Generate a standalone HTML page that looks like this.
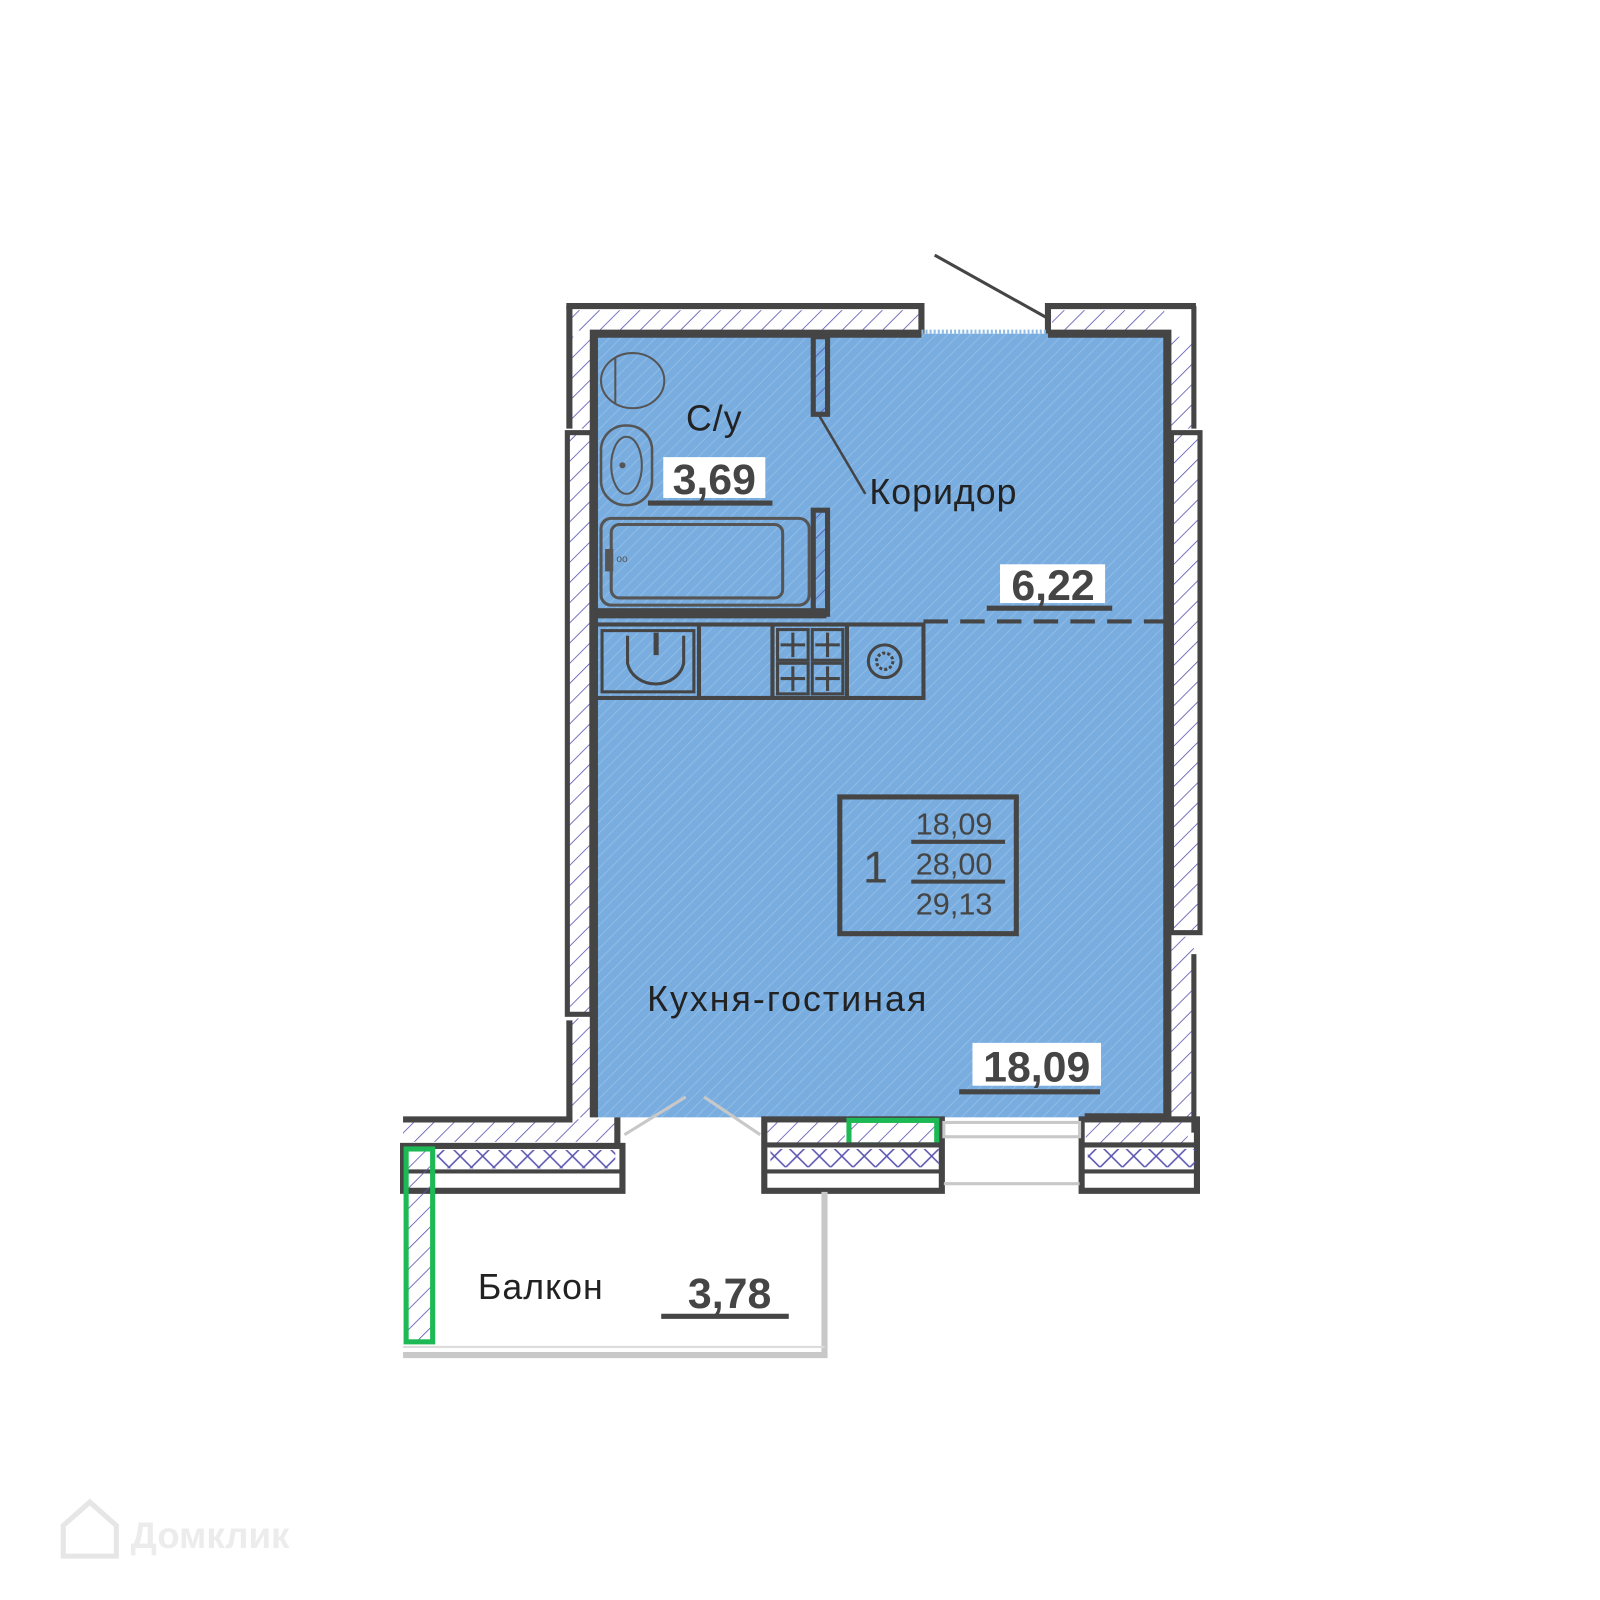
<!DOCTYPE html>
<html><head><meta charset="utf-8"><style>
html,body{margin:0;padding:0;background:#fff;}
svg{display:block;}
text{font-family:"Liberation Sans","DejaVu Sans",sans-serif;}
</style></head><body>
<svg width="1600" height="1600" viewBox="0 0 1568 1568" xmlns="http://www.w3.org/2000/svg">
<defs>
<pattern id="h" width="14" height="14" patternUnits="userSpaceOnUse" patternTransform="rotate(45)">
<line x1="0" y1="0" x2="0" y2="14" stroke="#5a55b0" stroke-width="1.6"/>
</pattern>
<pattern id="b" width="8" height="8" patternUnits="userSpaceOnUse" patternTransform="rotate(45)">
<rect width="8" height="8" fill="#79ade0"/>
<line x1="0" y1="0" x2="0" y2="8" stroke="#8fbce6" stroke-width="2"/>
</pattern>
<pattern id="x" width="22" height="22" patternUnits="userSpaceOnUse">
<path d="M0 0L22 22M22 0L0 22" stroke="#5a55b0" stroke-width="1.5"/>
</pattern>
</defs>
<rect x="582" y="327" width="562" height="768" fill="url(#b)"/>
<g fill="#fff" stroke="#454545" stroke-width="6">
<path d="M555 300H903V327"/>
<path d="M1027 327V300H1172"/>
</g>
<rect x="560" y="304" width="340" height="20" fill="url(#h)"/>
<rect x="1031" y="304" width="110" height="20" fill="url(#h)"/>
<line x1="916" y1="250" x2="1027" y2="312" stroke="#454545" stroke-width="3"/>
<rect x="560" y="330" width="20" height="90" fill="url(#h)"/>
<line x1="558" y1="300" x2="558" y2="420" stroke="#454545" stroke-width="6"/>
<rect x="556" y="424" width="24" height="570" fill="url(#h)" stroke="#454545" stroke-width="5"/>
<rect x="560" y="998" width="20" height="97" fill="url(#h)"/>
<line x1="558" y1="1000" x2="558" y2="1098" stroke="#454545" stroke-width="6"/>
<rect x="1148" y="330" width="22" height="90" fill="url(#h)"/>
<line x1="1170" y1="300" x2="1170" y2="420" stroke="#454545" stroke-width="5"/>
<rect x="1148" y="424" width="28" height="490" fill="url(#h)" stroke="#454545" stroke-width="5"/>
<rect x="1148" y="918" width="22" height="180" fill="url(#h)"/>
<line x1="1170" y1="935" x2="1170" y2="1110" stroke="#454545" stroke-width="5"/>
<path d="M903 327H582V1095" fill="none" stroke="#454545" stroke-width="8"/>
<path d="M1027 327H1144V1095H1063" fill="none" stroke="#454545" stroke-width="8"/>
<line x1="903" y1="325" x2="1027" y2="325" stroke="#8fbce6" stroke-width="4" stroke-dasharray="2 2"/>
<rect x="797" y="330" width="14" height="76" fill="url(#h)" stroke="#454545" stroke-width="5"/>
<rect x="797" y="500" width="14" height="102" fill="url(#h)" stroke="#454545" stroke-width="5"/>
<rect x="584" y="596" width="226" height="10" fill="#454545"/>
<ellipse cx="620" cy="373" rx="31" ry="27" fill="none" stroke="#555" stroke-width="2"/>
<line x1="603" y1="350" x2="603" y2="396" stroke="#555" stroke-width="2"/>
<rect x="589" y="417" width="50" height="78" rx="24" fill="none" stroke="#555" stroke-width="2.5"/>
<ellipse cx="614" cy="456" rx="15" ry="28" fill="none" stroke="#555" stroke-width="2"/>
<circle cx="610" cy="456" r="3" fill="#555"/>
<rect x="589" y="508" width="204" height="85" rx="10" fill="none" stroke="#555" stroke-width="3"/>
<rect x="599" y="514" width="168" height="72" rx="8" fill="none" stroke="#555" stroke-width="3"/>
<rect x="593" y="538" width="8" height="22" fill="#555"/>
<text x="604" y="551" font-size="10" fill="#555">oo</text>
<line x1="905" y1="609" x2="1142" y2="609" stroke="#454545" stroke-width="4" stroke-dasharray="24 12"/>
<g fill="none" stroke="#454545" stroke-width="4">
<rect x="584" y="612" width="321" height="72"/>
<line x1="685" y1="612" x2="685" y2="684"/>
<line x1="757" y1="612" x2="757" y2="684"/>
<line x1="830" y1="612" x2="830" y2="684"/>
<rect x="590" y="618" width="90" height="60" stroke-width="3"/>
<path d="M615 623V650A28 25 0 0 0 670 650V623" stroke-width="3"/>
<line x1="643" y1="620" x2="643" y2="642" stroke-width="5"/>
<g stroke-width="3">
<rect x="762" y="617" width="30" height="30"/><rect x="796" y="617" width="30" height="30"/>
<rect x="762" y="650" width="30" height="30"/><rect x="796" y="650" width="30" height="30"/>
<path d="M777 620V644M765 632H789M811 620V644M799 632H823M777 653V677M765 665H789M811 653V677M799 665H823"/>
</g>
<circle cx="867" cy="648" r="16" stroke-width="3"/>
</g>
<circle cx="867" cy="648" r="8" fill="none" stroke="#454545" stroke-width="3" stroke-dasharray="3 2"/>
<rect x="823" y="781" width="173" height="134" fill="none" stroke="#454545" stroke-width="5"/>
<text x="858" y="865" font-size="44" fill="#454545" text-anchor="middle">1</text>
<g font-size="30" fill="#454545" text-anchor="middle">
<text x="935" y="818">18,09</text>
<text x="935" y="857">28,00</text>
<text x="935" y="896">29,13</text>
</g>
<line x1="893" y1="825" x2="985" y2="825" stroke="#454545" stroke-width="4"/>
<line x1="893" y1="864" x2="985" y2="864" stroke="#454545" stroke-width="4"/>
<path d="M612 1112L672 1075M745 1112L690 1075" stroke="#c8c8c8" stroke-width="3" fill="none"/>
<rect x="395" y="1097" width="210" height="22" fill="url(#h)"/>
<path d="M395 1097H558V1095" fill="none" stroke="#454545" stroke-width="6"/>
<rect x="395" y="1123" width="215" height="44" fill="none" stroke="#454545" stroke-width="6"/>
<rect x="428" y="1127" width="175" height="18" fill="url(#x)"/>
<line x1="395" y1="1148" x2="610" y2="1148" stroke="#454545" stroke-width="4"/>
<line x1="605" y1="1095" x2="605" y2="1125" stroke="#454545" stroke-width="6"/>
<rect x="749" y="1097" width="174" height="70" fill="none" stroke="#454545" stroke-width="6"/>
<rect x="752" y="1100" width="76" height="20" fill="url(#h)"/>
<rect x="832" y="1098" width="86" height="24" fill="url(#h)" stroke="#1db954" stroke-width="5"/>
<line x1="749" y1="1122" x2="923" y2="1122" stroke="#454545" stroke-width="5"/>
<rect x="755" y="1126" width="165" height="18" fill="url(#x)"/>
<line x1="749" y1="1148" x2="923" y2="1148" stroke="#454545" stroke-width="4"/>
<rect x="1060" y="1097" width="113" height="70" fill="none" stroke="#454545" stroke-width="6"/>
<rect x="1064" y="1100" width="100" height="20" fill="url(#h)"/>
<line x1="1060" y1="1122" x2="1173" y2="1122" stroke="#454545" stroke-width="5"/>
<rect x="1066" y="1126" width="105" height="18" fill="url(#x)"/>
<line x1="1060" y1="1148" x2="1173" y2="1148" stroke="#454545" stroke-width="4"/>
<rect x="925" y="1100" width="133" height="14" fill="none" stroke="#c8c8c8" stroke-width="3"/>
<line x1="925" y1="1160" x2="1058" y2="1160" stroke="#c8c8c8" stroke-width="3"/>
<rect x="398" y="1126" width="26" height="189" fill="url(#h)" stroke="#1db954" stroke-width="5"/>
<path d="M808 1168V1328H395" fill="none" stroke="#c8c8c8" stroke-width="6"/>
<line x1="395" y1="1320" x2="808" y2="1320" stroke="#dcdcdc" stroke-width="2"/>
<g fill="#222" font-size="35" letter-spacing="1">
<text x="700" y="422" text-anchor="middle">С/у</text>
<text x="852" y="494">Коридор</text>
<text x="772" y="991" text-anchor="middle" letter-spacing="2">Кухня-гостиная</text>
<text x="530" y="1273" text-anchor="middle">Балкон</text>
</g>
<path d="M802 406L848 484" stroke="#454545" stroke-width="2.5"/>
<g font-size="42" font-weight="bold" fill="#454545" text-anchor="middle">
<rect x="650" y="448" width="100" height="40" fill="#fff"/>
<text x="700" y="484">3,69</text>
<rect x="980" y="553" width="103" height="38" fill="#fff"/>
<text x="1032" y="588">6,22</text>
<rect x="953" y="1022" width="126" height="42" fill="#fff"/>
<text x="1016" y="1060">18,09</text>
<text x="715" y="1282">3,78</text>
</g>
<g stroke="#454545" stroke-width="5">
<line x1="635" y1="493" x2="757" y2="493"/>
<line x1="967" y1="596" x2="1090" y2="596"/>
<line x1="940" y1="1070" x2="1078" y2="1070"/>
<line x1="648" y1="1290" x2="773" y2="1290"/>
</g>
<path d="M62 1495L88 1472L114 1495V1525H62Z" fill="none" stroke="#e6e6e6" stroke-width="5"/>
<text x="128" y="1517" font-size="36" font-weight="bold" fill="#ececec">Домклик</text>
</svg>
</body></html>
